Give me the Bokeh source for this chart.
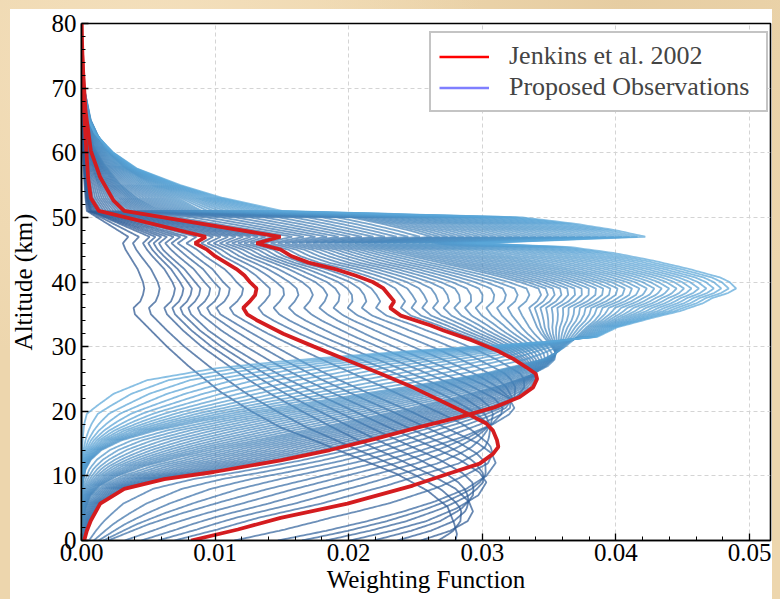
import numpy as np
from bokeh.plotting import figure
from bokeh.models import (Range1d, Legend, LegendItem, NumeralTickFormatter,
                          SingleIntervalTicker)
from bokeh.embed import file_html
from bokeh.resources import INLINE

# ---------------- data (altitude km, weighting) ----------------
# darkest (longest wavelength) curve
D0_Z = [0, 1, 2.6, 5.2, 7.7, 10.3, 13.4, 15.5, 17.5, 20, 23, 27, 30, 32.5, 35, 36, 37, 38, 39, 40, 42, 44, 45, 46, 47, 51, 53, 56, 60, 65, 70, 80]
D0_W = [.0280, .0281, .0279, .0274, .0259, .0236, .0199, .0174, .0149, .0127, .0104, .0080, .0064, .0052, .0040, .0039, .0044, .0046, .0047, .0046, .0042, .0036, .0033, .0031, .0035, .0004, .0003, .0002, .0001, .00005, 0, 0]
# dark curve, surface value 0.025
DA_Z = [0, 1.5, 3, 4.5, 6, 8, 10, 12.5, 15, 17.5, 20, 22.5, 25, 27.5, 30, 32.5, 35, 36, 37, 38, 39, 40, 42, 44, 45, 46, 47, 51, 53, 58, 66, 75, 80]
DA_W = [.0254, .0276, .0289, .0293, .0290, .0280, .0263, .0238, .0212, .0188, .0165, .0143, .0124, .0107, .0090, .0076, .0064, .0062, .0067, .0069, .0070, .0068, .0062, .0053, .0049, .0046, .0051, .0006, .0004, .0002, .0001, 0, 0]
# dark curve, surface value 0.020
D1_Z = [0, 1.5, 3, 5, 7, 9, 10.5, 12.5, 15, 17.5, 20, 22.5, 25, 27.5, 30, 32.5, 35, 36, 37, 38, 39, 40, 42, 44, 45, 46, 47, 51, 53, 58, 66, 75, 80]
D1_W = [.0201, .0232, .0258, .0281, .0297, .0303, .0298, .0283, .0257, .0230, .0204, .0178, .0154, .0132, .0112, .0095, .0082, .0080, .0085, .0088, .0089, .0085, .0077, .0066, .0061, .0058, .0064, .0008, .0005, .0003, .0001, 0, 0]
# dark curve, surface value 0.015
DB_Z = [0, 1.5, 3, 4.5, 6, 8, 10, 12, 13.5, 15, 17.5, 20, 22.5, 25, 27.5, 30, 32.5, 35, 36, 37, 38, 39, 40, 42, 44, 45, 46, 47, 51, 53, 58, 66, 75, 80]
DB_W = [.0147, .0183, .0214, .0241, .0264, .0288, .0303, .0310, .0307, .0297, .0272, .0246, .0218, .0191, .0167, .0145, .0124, .0104, .0101, .0107, .0110, .0111, .0106, .0098, .0085, .0079, .0072, .0079, .0011, .0006, .0004, .0002, 0, 0]
# Jenkins et al. 2002, lower curve
B_Z = [0, 1.7, 3.5, 5.7, 8.5, 10.3, 11.9, 13.4, 14.5, 15.5, 17, 18.1, 19.6, 21.5, 23.7, 25.8, 27.9, 30, 32, 34, 35, 36, 37, 38, 39, 40, 41, 42, 43, 44, 45, 46, 47, 51, 53, 56, 59, 66, 80]
B_W = [.0082, .0117, .0149, .0199, .0248, .0274, .0298, .0308, .0312, .0311, .0308, .0303, .0289, .0270, .0248, .0224, .0199, .0174, .0151, .0132, .0124, .0121, .0126, .0130, .0131, .0126, .0122, .0116, .0108, .0100, .0094, .0085, .0093, .0013, .0007, .0005, .0004, .0002, 0]
# medium curve, surface value 0.002
M_Z = [0, 1, 2.5, 4.2, 6, 8, 10, 12, 14, 16, 18, 19.5, 20.5, 22, 24, 26.5, 29, 31.5, 34, 35, 36, 37, 38, 39, 40, 41, 42, 43, 44, 45, 46, 47, 51, 53, 57, 62, 68, 78, 80]
M_W = [.0020, .0032, .0050, .0075, .0105, .0140, .0180, .0220, .0255, .0285, .0308, .0320, .0324, .0320, .0302, .0275, .0245, .0217, .0192, .0184, .0178, .0182, .0184, .0181, .0175, .0165, .0155, .0143, .0130, .0121, .0108, .0121, .0022, .0015, .0009, .0004, .0002, 0, 0]
# Jenkins et al. 2002, upper curve
A_Z = [0, 1.5, 3.1, 5.7, 8, 9.5, 10.6, 12.4, 14, 15.7, 17.5, 19.1, 20.6, 22.2, 23.7, 25, 25.8, 26.8, 28, 29.4, 31, 32.5, 33.3, 34.8, 36, 37, 38, 39, 40, 41, 42, 43, 44, 45, 46, 47, 51, 52.6, 56.2, 60.3, 66.5, 76.8, 80]
A_W = [.0002, .0004, .0007, .0014, .0032, .0062, .0099, .0149, .0186, .0219, .0252, .0283, .0309, .0328, .0338, .0341, .0340, .0333, .0324, .0311, .0292, .0271, .0261, .0239, .0231, .0234, .0230, .0226, .0218, .0205, .0190, .0170, .0157, .0149, .0131, .0149, .0032, .0024, .0014, .0007, .0003, 0, 0]
# light curves (short wavelengths)
L1_Z = [0, 3, 5, 7, 8.5, 10, 11.5, 13, 14.5, 16, 18, 20, 22, 24, 25.5, 27, 28, 29, 30, 31, 32, 33, 34, 35, 36, 37, 38, 39, 40, 41, 42, 43, 44, 45, 46, 47, 48, 49, 50, 51, 53, 55, 58, 61, 65, 72, 80]
L1_W = [0, .0001, .0003, .0007, .0014, .0027, .0047, .0075, .0107, .0142, .0190, .0236, .0277, .0313, .0335, .0349, .0354, .0355, .0352, .0348, .0344, .0341, .0339, .0337, .0335, .0341, .0344, .0342, .0328, .0310, .0290, .0268, .0247, .0226, .0200, .0262, .0245, .0225, .0202, .0060, .0042, .0030, .0018, .0009, .0004, 0, 0]
L2_Z = [0, 6, 9, 11, 12.5, 14, 15.5, 17, 18.5, 20, 21.5, 23, 24.5, 26, 27, 28, 29, 30, 31, 32, 33, 34, 35, 36, 37, 38, 39, 40, 41, 42, 43, 44, 45, 46, 47, 48, 49, 50, 51, 53, 55, 58, 61, 65, 72, 80]
L2_W = [0, 0, .0001, .0003, .0007, .0015, .0030, .0055, .0090, .0130, .0175, .0220, .0265, .0305, .0325, .0345, .0355, .0362, .0368, .0373, .0378, .0384, .0388, .0390, .0402, .0410, .0412, .0402, .0386, .0366, .0345, .0322, .0300, .0262, .0340, .0320, .0295, .0260, .0090, .0072, .0052, .0030, .0016, .0007, 0, 0]
L3_Z = [0, 12, 16, 18, 19.6, 20.9, 22.7, 24.8, 26.6, 27.7, 28.5, 29.3, 30, 30.7, 31.5, 33, 34.6, 35.5, 36.7, 37.5, 38.3, 39, 40, 40.7, 42, 43.3, 44.5, 45.4, 46, 47, 48, 49, 50, 51, 53, 55, 57.5, 60, 63, 66, 70, 80]
L3_W = [0, 0, .0001, .0002, .0004, .0012, .0024, .0049, .0099, .0149, .0195, .0245, .0295, .0345, .0386, .0401, .0430, .0448, .0465, .0472, .0484, .0490, .0485, .0478, .0455, .0428, .0398, .0366, .0295, .0422, .0400, .0370, .0330, .0150, .0106, .0074, .0042, .0024, .0010, .0003, 0, 0]

KEYS = [(D0_Z, D0_W), (DA_Z, DA_W), (D1_Z, D1_W), (DB_Z, DB_W), (B_Z, B_W), (M_Z, M_W),
        (A_Z, A_W), (L1_Z, L1_W), (L2_Z, L2_W), (L3_Z, L3_W)]
STEPS = [2, 3, 3, 2, 5, 5, 13, 13, 14]   # observed curves between neighbouring key curves

X_LABEL = "Weighting Function"
Y_LABEL = "Altitude (km)"
LEGEND_LABELS = ["Jenkins et al. 2002", "Proposed Observations"]

# ---------------- build curves ----------------
ZG = np.round(np.concatenate([np.arange(0, 51.001, 0.1), np.arange(51.5, 80.001, 0.5)]), 3)
res = [np.interp(ZG, z, w) for z, w in KEYS]
curves = []
for k, n in enumerate(STEPS):
    for i in range(n):
        f = i / n
        curves.append((1 - f) * res[k] + f * res[k + 1])
curves.append(res[-1])

def lerp_col(c1, c2, f):
    a = [int(c1[i:i + 2], 16) for i in (1, 3, 5)]
    b = [int(c2[i:i + 2], 16) for i in (1, 3, 5)]
    return "#%02x%02x%02x" % tuple(int(round(a[j] + (b[j] - a[j]) * f)) for j in range(3))

N = len(curves)
cols = [lerp_col("#2a5590", "#5aa6d8", (i / (N - 1)) ** 0.9) for i in range(N)]

p = figure(width=780, height=599, output_backend="svg", toolbar_location=None,
           x_range=Range1d(0, 0.05157), y_range=Range1d(0, 80),
           min_border_left=81, min_border_right=10, min_border_top=23, min_border_bottom=59)

p.multi_line(xs=[list(c) for c in curves], ys=[list(ZG)] * N, line_color=cols,
             line_width=1.8, line_alpha=0.72)

p.line(A_W, A_Z, line_color="#d41c1f", line_width=3.8)
p.line(B_W, B_Z, line_color="#d41c1f", line_width=3.8)

# legend-only renderers (placed outside the visible ranges)
r_red = p.line([-1, -0.9], [-10, -10], line_color="#ff0000", line_width=2.4)
r_blue = p.line([-1, -0.9], [-10, -10], line_color="#0000ff", line_alpha=0.5, line_width=2.4)
legend = Legend(items=[LegendItem(label=LEGEND_LABELS[0], renderers=[r_red]),
                       LegendItem(label=LEGEND_LABELS[1], renderers=[r_blue])],
                location=(348, 428))
legend.border_line_color = "#8a8a8a"
legend.border_line_width = 2
legend.background_fill_color = "white"
legend.background_fill_alpha = 1
legend.label_text_font = "Liberation Serif"
legend.label_text_font_size = "26px"
legend.glyph_width = 50
legend.glyph_height = 25
legend.label_height = 25
legend.label_standoff = 20
legend.padding = 8
legend.spacing = 1
legend.margin = 0
legend.label_width = 249
p.add_layout(legend)

FONT = "Liberation Serif"
p.xaxis.ticker = SingleIntervalTicker(interval=0.01, num_minor_ticks=5)
p.yaxis.ticker = SingleIntervalTicker(interval=10, num_minor_ticks=5)
p.xaxis.formatter = NumeralTickFormatter(format="0.00")
p.xaxis.axis_label = X_LABEL
p.yaxis.axis_label = Y_LABEL
for ax in (p.xaxis, p.yaxis):
    ax.axis_label_text_font = FONT
    ax.axis_label_text_font_size = "25px"
    ax.axis_label_text_font_style = "normal"
    ax.major_label_text_font = FONT
    ax.major_label_text_font_size = "25px"
    ax.major_label_text_color = "black"
    ax.axis_label_text_color = "black"
    ax.axis_line_color = "black"
    ax.axis_line_width = 1.6
    ax.major_tick_in = 7
    ax.major_tick_out = 0
    ax.minor_tick_in = 4
    ax.minor_tick_out = 0
    ax.major_tick_line_color = "black"
    ax.minor_tick_line_color = "black"
    ax.major_tick_line_width = 1.3
p.xaxis.major_label_standoff = 3
p.xaxis.axis_label_standoff = 2
p.yaxis.major_label_standoff = 5
p.yaxis.axis_label_standoff = 12

for g in (p.xgrid, p.ygrid):
    g.grid_line_color = "#d4d4d4"
    g.grid_line_dash = "4 3"
    g.grid_line_width = 1

p.outline_line_color = "black"
p.outline_line_width = 1.6
p.background_fill_color = "white"
p.border_fill_color = None
p.styles = {
    "background": "linear-gradient(#ffffff,#ffffff) 10px 9px / 762px 600px no-repeat, "
                  "radial-gradient(circle at 20% 10%, #f4e0bd 0%, rgba(244,224,189,0) 40%), "
                  "radial-gradient(circle at 80% 0%, #e6cda2 0%, rgba(230,205,162,0) 35%), "
                  "#edd6ad"
}

open("out.html", "w").write(file_html(p, INLINE))
